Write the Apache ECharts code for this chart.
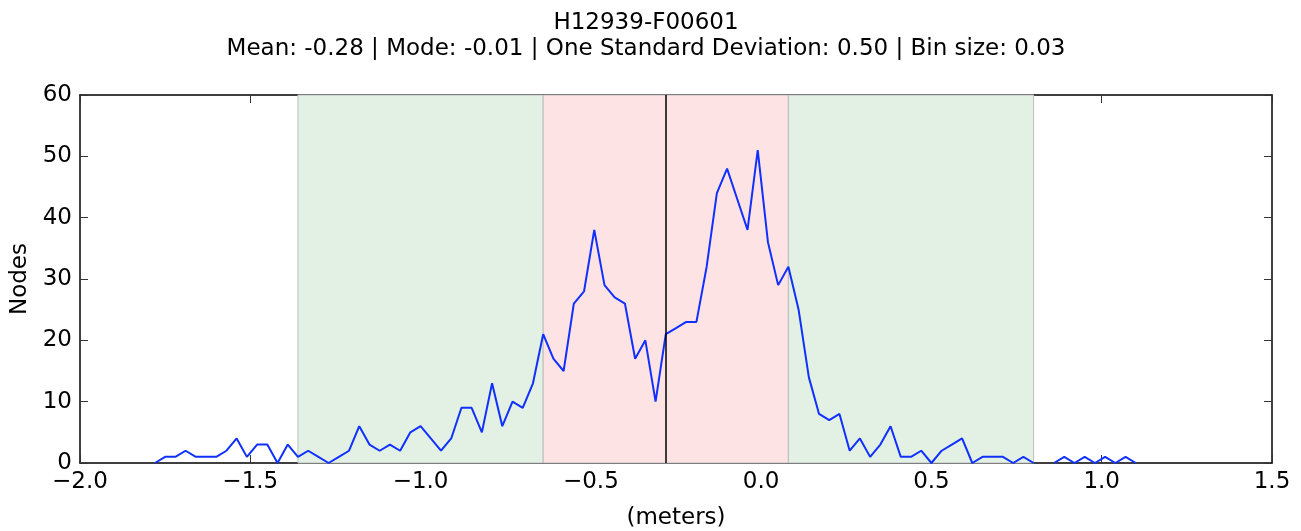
<!DOCTYPE html>
<html>
<head>
<meta charset="utf-8">
<script src="https://cdn.jsdelivr.net/npm/echarts@6/dist/echarts.min.js"></script>
<style>
  html, body { margin: 0; padding: 0; background: #fff; }
  #chart { width: 1301px; height: 531px; }
</style>
</head>
<body>
<div id="chart"></div>
<script>
// bin centres (meters)
var binCenters = [
  -1.78, -1.75, -1.72, -1.69, -1.66, -1.63, -1.60, -1.57, -1.54, -1.51,
  -1.48, -1.45, -1.42, -1.39, -1.36, -1.33, -1.30, -1.27, -1.24, -1.21,
  -1.18, -1.15, -1.12, -1.09, -1.06, -1.03, -1.00, -0.97, -0.94, -0.91,
  -0.88, -0.85, -0.82, -0.79, -0.76, -0.73, -0.70, -0.67, -0.64, -0.61,
  -0.58, -0.55, -0.52, -0.49, -0.46, -0.43, -0.40, -0.37, -0.34, -0.31,
  -0.28, -0.25, -0.22, -0.19, -0.16, -0.13, -0.10, -0.07, -0.04, -0.01,
  0.02, 0.05, 0.08, 0.11, 0.14, 0.17, 0.20, 0.23, 0.26, 0.29,
  0.32, 0.35, 0.38, 0.41, 0.44, 0.47, 0.50, 0.53, 0.56, 0.59,
  0.62, 0.65, 0.68, 0.71, 0.74, 0.77, 0.80, 0.83, 0.86, 0.89,
  0.92, 0.95, 0.98, 1.01, 1.04, 1.07, 1.10
];
// node counts per bin (null = no bin)
var nodeCounts = [
  0, 1, 1, 2, 1, 1, 1, 2, 4, 1,
  3, 3, 0, 3, 1, 2, 1, 0, 1, 2,
  6, 3, 2, 3, 2, 5, 6, 4, 2, 4,
  9, 9, 5, 13, 6, 10, 9, 13, 21, 17,
  15, 26, 28, 38, 29, 27, 26, 17, 20, 10,
  21, 22, 23, 23, 32, 44, 48, 43, 38, 51,
  36, 29, 32, 25, 14, 8, 7, 8, 2, 4,
  1, 3, 6, 1, 1, 2, 0, 2, 3, 4,
  0, 1, 1, 1, 0, 1, 0, null, 0, 1,
  0, 1, 0, 1, 0, 1, 0
];
var meanValue = -0.28;
// one std band and the outer band
var innerBand = [-0.64, 0.08];
var outerBand = [-1.36, 0.80];
var xTicks = { min: -2.0, max: 1.5, step: 0.5 };
var yTicks = { min: 0, max: 60, step: 10 };

var font = 'DejaVu Sans';
var points = binCenters.map(function (x, i) { return [x, nodeCounts[i]]; });

function fmtX (v) {
  return (v < 0 ? '\u2212' : '') + Math.abs(v).toFixed(1);
}

var axisCommon = {
  axisLine: { show: true, onZero: false, lineStyle: { color: '#000', width: 1.5 } },
  axisTick: { show: true, inside: true, length: 8, lineStyle: { color: '#333', width: 1 } },
  splitLine: { show: false }
};

var chart = echarts.init(document.getElementById('chart'));
chart.setOption({
  animation: false,
  textStyle: { fontFamily: font },
  title: {
    text: 'H12939-F00601\nMean: -0.28 | Mode: -0.01 | One Standard Deviation: 0.50 | Bin size: 0.03',
    left: 641,
    top: 5,
    textAlign: 'center',
    textStyle: { fontFamily: font, fontSize: 23, fontWeight: 'normal', color: '#000', lineHeight: 26 }
  },
  // fixed plot box, no auto shrinking for the axis names
  grid: { left: 80, right: 29, top: 95, bottom: 68, outerBoundsMode: 'none', containLabel: false },
  xAxis: [
    Object.assign({}, axisCommon, {
      type: 'value', position: 'bottom',
      min: xTicks.min, max: xTicks.max, interval: xTicks.step,
      name: '(meters)', nameLocation: 'middle', nameGap: 44,
      nameTextStyle: { fontFamily: font, fontSize: 23, color: '#000' },
      axisLabel: { fontFamily: font, fontSize: 23, color: '#000', margin: 8, formatter: fmtX }
    }),
    Object.assign({}, axisCommon, {
      type: 'value', position: 'top',
      min: xTicks.min, max: xTicks.max, interval: xTicks.step,
      axisLabel: { show: false }
    })
  ],
  yAxis: [
    Object.assign({}, axisCommon, {
      type: 'value', position: 'left',
      min: yTicks.min, max: yTicks.max, interval: yTicks.step,
      name: 'Nodes', nameLocation: 'middle', nameGap: 42,
      nameTextStyle: { fontFamily: font, fontSize: 23, color: '#000' },
      axisLabel: { fontFamily: font, fontSize: 23, color: '#000', margin: 8 }
    }),
    Object.assign({}, axisCommon, {
      type: 'value', position: 'right',
      min: yTicks.min, max: yTicks.max, interval: yTicks.step,
      axisLabel: { show: false }
    })
  ],
  series: [
    {
      type: 'line',
      data: points,
      showSymbol: false,
      connectNulls: false,
      lineStyle: { color: '#1030ff', width: 2 },
      z: 3,
      markArea: {
        silent: true,
        itemStyle: { borderColor: '#bdbdbd', borderWidth: 1 },
        data: [
          [{ xAxis: outerBand[0], itemStyle: { color: '#e2f1e4' } }, { xAxis: innerBand[0] }],
          [{ xAxis: innerBand[0], itemStyle: { color: '#fee3e5' } }, { xAxis: innerBand[1] }],
          [{ xAxis: innerBand[1], itemStyle: { color: '#e2f1e4' } }, { xAxis: outerBand[1] }]
        ]
      },
      markLine: {
        silent: true,
        symbol: 'none',
        label: { show: false },
        lineStyle: { color: '#000', width: 1.5, type: 'solid' },
        data: [{ xAxis: meanValue }]
      }
    }
  ]
});
</script>
</body>
</html>
